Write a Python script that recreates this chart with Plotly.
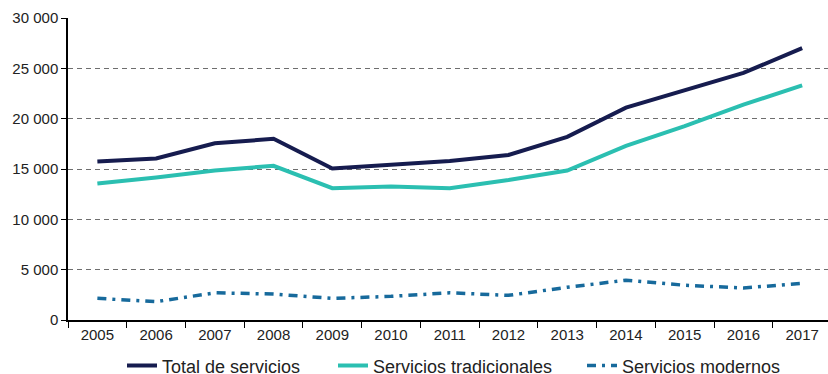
import plotly.graph_objects as go

years = list(range(2005, 2018))
total_servicios = [15750, 16050, 17550, 18000, 15050, 15450, 15800, 16400, 18200, 21100, 22850, 24550, 27000]
servicios_tradicionales = [13570, 14150, 14850, 15320, 13100, 13250, 13100, 13900, 14850, 17300, 19250, 21400, 23300]
servicios_modernos = [2150, 1820, 2700, 2580, 2150, 2350, 2700, 2450, 3250, 3950, 3450, 3180, 3640]

y_ticks = [0, 5000, 10000, 15000, 20000, 25000, 30000]
y_tick_text = ["0", "5 000", "10 000", "15 000", "20 000", "25 000", "30 000"]

font_family = "Liberation Sans, Arial, sans-serif"

fig = go.Figure()
fig.add_trace(go.Scatter(x=years, y=total_servicios, mode="lines", name="Total de servicios",
                         line=dict(color="#161c4f", width=4), legend="legend"))
fig.add_trace(go.Scatter(x=years, y=servicios_tradicionales, mode="lines", name="Servicios tradicionales",
                         line=dict(color="#2bbfb1", width=4), legend="legend2"))
fig.add_trace(go.Scatter(x=years, y=servicios_modernos, mode="lines", name="Servicios modernos",
                         line=dict(color="#176a9c", width=3.5, dash="9px,6px,3px,6px"), legend="legend3"))


def legend_box(x_px):
    # one legend per series so each entry sits at its own spot along the bottom
    return dict(orientation="h", x=x_px / 828, xanchor="left", xref="container",
                y=0.022, yanchor="middle", yref="container",
                font=dict(size=18, color="#222222"), itemwidth=30,
                bgcolor="rgba(0,0,0,0)")


fig.update_layout(
    width=828, height=374,
    margin=dict(l=68, r=0, t=18, b=54, autoexpand=False),
    paper_bgcolor="white", plot_bgcolor="white",
    font=dict(family=font_family, size=15, color="#222222"),
    showlegend=True,
    legend=legend_box(122),
    legend2=legend_box(333),
    legend3=legend_box(582),
    xaxis=dict(
        range=[2004.5, 2017.44], tickvals=years, ticktext=[str(y) for y in years],
        ticks="", showgrid=False, zeroline=False,
        showline=True, linecolor="black", linewidth=1.5,
        tickfont=dict(size=15, color="#222222"),
        minor=dict(tickvals=[y - 0.5 for y in years] + [2017.5], ticks="outside",
                   ticklen=6, tickcolor="black", tickwidth=1.2, showgrid=False),
    ),
    yaxis=dict(
        range=[0, 30000], tickvals=y_ticks, ticktext=y_tick_text,
        showgrid=True, gridcolor="#6e6e6e", griddash="5px,4px", gridwidth=1.2,
        zeroline=False, showline=True, linecolor="black", linewidth=1.5,
        ticks="outside", ticklen=5, tickcolor="black",
        tickfont=dict(size=15, color="#222222"),
    ),
)

fig.write_html("out.html")
